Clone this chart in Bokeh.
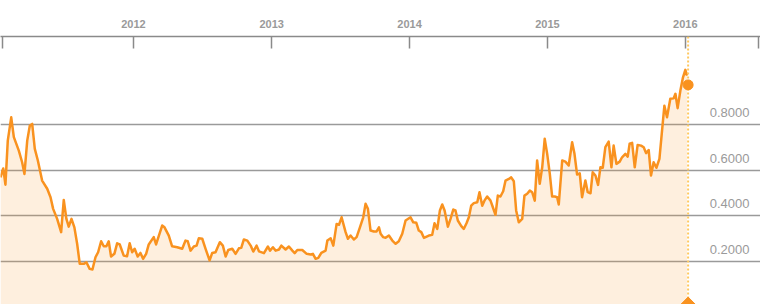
import math
from datetime import datetime

from bokeh.plotting import figure
from bokeh.models import Range1d, FixedTicker, CustomJSTickFormatter, Span, ColumnDataSource
from bokeh.embed import file_html
from bokeh.resources import INLINE
from bokeh.core.properties import value

# ---- data (time as decimal years) ----
obs_years = [
    2011.036, 2011.056, 2011.072, 2011.089, 2011.114, 2011.133, 2011.169, 2011.193, 2011.210, 2011.230,
    2011.249, 2011.266, 2011.285, 2011.307, 2011.338, 2011.375, 2011.399, 2011.418, 2011.447, 2011.476,
    2011.495, 2011.514, 2011.531, 2011.551, 2011.572, 2011.592, 2011.611, 2011.640, 2011.659, 2011.683,
    2011.703, 2011.725, 2011.744, 2011.766, 2011.785, 2011.804, 2011.821, 2011.838, 2011.862, 2011.882,
    2011.901, 2011.930, 2011.954, 2011.973, 2011.991, 2012.009, 2012.031, 2012.051, 2012.070, 2012.092,
    2012.111, 2012.147, 2012.164, 2012.208, 2012.225, 2012.256, 2012.280, 2012.317, 2012.353, 2012.377,
    2012.393, 2012.413, 2012.437, 2012.457, 2012.473, 2012.498, 2012.522, 2012.551, 2012.570, 2012.594,
    2012.625, 2012.647, 2012.667, 2012.686, 2012.715, 2012.739, 2012.763, 2012.780, 2012.799, 2012.824,
    2012.848, 2012.867, 2012.891, 2012.908, 2012.944, 2012.973, 2012.988, 2013.009, 2013.029, 2013.053,
    2013.070, 2013.101, 2013.125, 2013.150, 2013.167, 2013.186, 2013.222, 2013.254, 2013.283, 2013.299,
    2013.319, 2013.338, 2013.360, 2013.391, 2013.404, 2013.428, 2013.447, 2013.471, 2013.488, 2013.507,
    2013.536, 2013.553, 2013.572, 2013.596, 2013.616, 2013.640, 2013.664, 2013.681, 2013.698, 2013.717,
    2013.741, 2013.761, 2013.778, 2013.790, 2013.809, 2013.826, 2013.850, 2013.875, 2013.899, 2013.922,
    2013.947, 2013.971, 2014.007, 2014.027, 2014.049, 2014.067, 2014.085, 2014.104, 2014.140, 2014.164,
    2014.181, 2014.201, 2014.220, 2014.237, 2014.254, 2014.278, 2014.297, 2014.317, 2014.333, 2014.350,
    2014.375, 2014.393, 2014.413, 2014.430, 2014.447, 2014.466, 2014.491, 2014.507, 2014.527, 2014.543,
    2014.563, 2014.587, 2014.604, 2014.623, 2014.640, 2014.659, 2014.679, 2014.696, 2014.720, 2014.737,
    2014.756, 2014.773, 2014.792, 2014.817, 2014.833, 2014.853, 2014.872, 2014.889, 2014.908, 2014.925,
    2014.944, 2014.962, 2014.980, 2014.998, 2015.017, 2015.034, 2015.053, 2015.070, 2015.082, 2015.107,
    2015.130, 2015.154, 2015.179, 2015.196, 2015.215, 2015.234, 2015.251, 2015.275, 2015.292, 2015.312,
    2015.328, 2015.348, 2015.367, 2015.384, 2015.401, 2015.420, 2015.444, 2015.464, 2015.480, 2015.500,
    2015.524, 2015.541, 2015.565, 2015.582, 2015.596, 2015.614, 2015.633, 2015.654, 2015.679, 2015.698,
    2015.715, 2015.734, 2015.751, 2015.770, 2015.790, 2015.812, 2015.831, 2015.848, 2015.867, 2015.891,
    2015.915, 2015.928, 2015.944, 2015.964, 2015.983, 2016.000, 2016.012,
]
obs_values = [
    0.569, 0.608, 0.537, 0.730, 0.832, 0.745, 0.686, 0.635, 0.584, 0.730,
    0.796, 0.803, 0.694, 0.643, 0.555, 0.519, 0.482, 0.431, 0.387, 0.329,
    0.470, 0.387, 0.353, 0.387, 0.350, 0.278, 0.190, 0.190, 0.197, 0.168,
    0.165, 0.219, 0.241, 0.289, 0.267, 0.267, 0.289, 0.222, 0.234, 0.280,
    0.275, 0.226, 0.223, 0.280, 0.241, 0.256, 0.222, 0.238, 0.212, 0.234,
    0.275, 0.307, 0.275, 0.358, 0.350, 0.314, 0.267, 0.263, 0.256, 0.292,
    0.289, 0.248, 0.266, 0.270, 0.302, 0.300, 0.256, 0.205, 0.238, 0.241,
    0.285, 0.270, 0.222, 0.251, 0.256, 0.234, 0.258, 0.260, 0.297, 0.292,
    0.270, 0.244, 0.270, 0.245, 0.237, 0.266, 0.248, 0.263, 0.248, 0.253,
    0.270, 0.253, 0.266, 0.248, 0.237, 0.251, 0.251, 0.234, 0.231, 0.234,
    0.212, 0.216, 0.238, 0.248, 0.292, 0.302, 0.270, 0.365, 0.361, 0.394,
    0.329, 0.300, 0.314, 0.297, 0.307, 0.350, 0.394, 0.453, 0.431, 0.336,
    0.332, 0.332, 0.350, 0.322, 0.307, 0.304, 0.314, 0.292, 0.278, 0.289,
    0.322, 0.380, 0.394, 0.372, 0.370, 0.336, 0.329, 0.304, 0.314, 0.317,
    0.368, 0.343, 0.424, 0.450, 0.424, 0.353, 0.387, 0.428, 0.424, 0.380,
    0.355, 0.343, 0.368, 0.394, 0.445, 0.456, 0.460, 0.504, 0.445, 0.467,
    0.485, 0.467, 0.438, 0.405, 0.489, 0.485, 0.508, 0.555, 0.562, 0.569,
    0.552, 0.424, 0.372, 0.387, 0.489, 0.497, 0.511, 0.504, 0.467, 0.643,
    0.541, 0.613, 0.738, 0.672, 0.584, 0.485, 0.485, 0.482, 0.450, 0.643,
    0.638, 0.621, 0.723, 0.672, 0.581, 0.587, 0.482, 0.555, 0.504, 0.499,
    0.591, 0.577, 0.536, 0.613, 0.611, 0.701, 0.726, 0.613, 0.708, 0.628,
    0.638, 0.657, 0.672, 0.660, 0.716, 0.720, 0.613, 0.711, 0.708, 0.701,
    0.675, 0.689, 0.577, 0.635, 0.611, 0.650, 0.774, 0.883, 0.832, 0.913,
    0.915, 0.935, 0.872, 0.949, 1.007, 1.040, 1.015,
]
latest_year = 2016.020
latest_value = 0.974

year_ticks = [2012, 2013, 2014, 2015, 2016]
grid_values = [0.2, 0.4, 0.6, 0.8]
grid_labels = ["0.2000", "0.4000", "0.6000", "0.8000"]

view_start_year = 2011.0362
view_end_year = 2016.5435
y_start, y_end = 0.012, 1.186

LINE = "#f9921f"


def year_to_ms(t):
    y = int(math.floor(t))
    a = datetime(y, 1, 1)
    b = datetime(y + 1, 1, 1)
    d = a + (b - a) * (t - y)
    return (d - datetime(1970, 1, 1)).total_seconds() * 1000.0


xs = [year_to_ms(t) for t in obs_years]
x0 = year_to_ms(view_start_year)
x1 = year_to_ms(view_end_year)
x_latest = year_to_ms(latest_year)

W, H = 760, 304
p = figure(width=W, height=H, x_axis_type="datetime", x_axis_location="above",
           y_axis_location=None, output_backend="svg", toolbar_location=None,
           x_range=Range1d(x0, x1), y_range=Range1d(y_start, y_end),
           min_border_left=0, min_border_right=0, min_border_bottom=0, min_border_top=36)
p.outline_line_color = None
p.background_fill_color = "white"
p.border_fill_color = "white"

# top axis
px = (x1 - x0) / W
tick_ms = [x0 + 1.5 * px] + [year_to_ms(y) for y in year_ticks] + [x1 - 2.0 * px]
ax = p.xaxis[0]
ax.ticker = FixedTicker(ticks=tick_ms)
ax.formatter = CustomJSTickFormatter(code="""
const d = new Date(tick);
if (d.getUTCMonth() === 0 && d.getUTCDate() === 1 && d.getUTCHours() === 0) return String(d.getUTCFullYear());
return '';
""")
ax.axis_line_color = "#8a8a8a"
ax.axis_line_width = 1.5
ax.major_tick_line_color = "#8a8a8a"
ax.major_tick_line_width = 1.5
ax.major_tick_in = 12
ax.major_tick_out = 0
ax.minor_tick_line_color = None
ax.major_label_standoff = 9
ax.major_label_text_font = "Liberation Sans"
ax.major_label_text_font_size = "11px"
ax.major_label_text_font_style = "bold"
ax.major_label_text_color = "#9a9a9a"

# grid
p.xgrid.visible = False
p.ygrid.ticker = FixedTicker(ticks=grid_values)
p.ygrid.grid_line_color = "#9a9a9a"
p.ygrid.grid_line_width = 1.5

src = ColumnDataSource(dict(x=xs, y=obs_values))
p.varea(x="x", y1=0, y2="y", source=src, fill_color=LINE, fill_alpha=0.15)
p.line(x="x", y="y", source=src, line_color=LINE, line_width=2.5, line_join="round")

# latest marker
p.add_layout(Span(location=x_latest, dimension="height", line_color="#ffc860",
                  line_dash="2 2", line_width=2))
dot = p.scatter(x=[x_latest], y=[latest_value], size=10, fill_color=LINE, line_color=LINE)
pin = p.scatter(x=[x_latest], y=[y_start], marker="square", angle=math.pi / 4, size=10.5,
                fill_color=LINE, line_color=LINE)
dot.level = "overlay"
pin.level = "overlay"

# value labels on the right, above grid lines
lab = ColumnDataSource(dict(x=[x1] * len(grid_values), y=grid_values, t=grid_labels))
p.text(x="x", y="y", text="t", source=lab, x_offset=-11, y_offset=-12,
       text_align="right", text_baseline="alphabetic", text_color="#9a9a9a",
       text_font=value("Liberation Sans"), text_font_size="13px")

open("out.html", "w").write(file_html(p, INLINE))
